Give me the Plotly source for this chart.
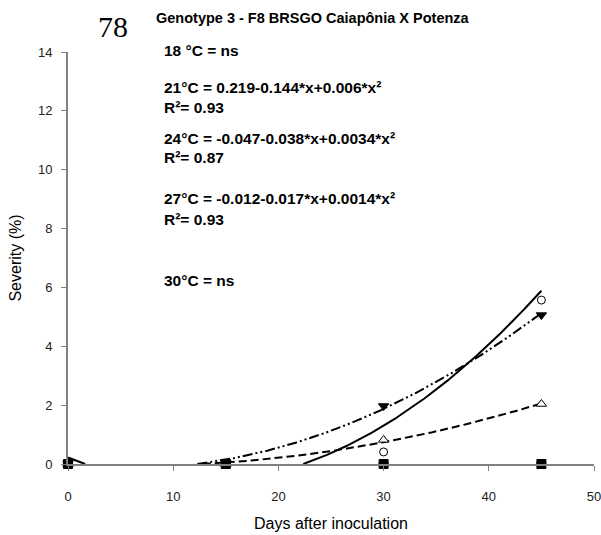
import numpy as np
import plotly.graph_objects as go

# Sampling days
days = [0, 15, 30, 45]

# Observed severity (%) per temperature
sev_18 = [0, 0, 0, 0]
sev_21 = [0, 0, 0.41, 5.57]
sev_24 = [0, 0.05, 1.97, 5.06]
sev_27 = [0, 0, 0.82, 2.04]
sev_30 = [0, 0, 0, 0]

# Fitted quadratic models: a + b*x + c*x^2
coef_21 = [0.219, -0.144, 0.006]
coef_24 = [-0.047, -0.038, 0.0034]
coef_27 = [-0.012, -0.017, 0.0014]

x_ticks = [0, 10, 20, 30, 40, 50]
y_ticks = [0, 2, 4, 6, 8, 10, 12, 14]

FONT = "Arial, Liberation Sans, sans-serif"


def fitted_curve(coef, x_max=45):
    """Evaluate a quadratic fit and keep only the non-negative part."""
    a, b, c = coef
    xs = list(np.linspace(0, x_max, 600))
    disc = b * b - 4 * c * a
    if disc >= 0:
        r1 = (-b - np.sqrt(disc)) / (2 * c)
        r2 = (-b + np.sqrt(disc)) / (2 * c)
        xs += [r for r in (r1, r2) if 0 <= r <= x_max]
    xs = sorted(xs)
    ys = []
    for x in xs:
        y = a + b * x + c * x * x
        ys.append(max(y, 0.0) if y > -1e-9 else None)
    return xs, ys


fig = go.Figure()

line_styles = [
    (coef_21, "solid"),
    (coef_24, "10px,3px,2px,3px,2px,3px"),
    (coef_27, "8px,4px"),
]
for coef, dash in line_styles:
    cx, cy = fitted_curve(coef)
    fig.add_trace(go.Scatter(
        x=cx, y=cy, mode="lines", connectgaps=False,
        line=dict(color="black", width=2, dash=dash),
        hoverinfo="skip", showlegend=False,
    ))

# open symbols underneath, filled symbols on top
marker_specs = [
    (sev_21, "circle", "white", 8),
    (sev_27, "triangle-up", "white", 9),
    (sev_24, "triangle-down", "black", 9),
    (sev_18, "circle", "black", 9),
    (sev_30, "square", "black", 9),
]
for vals, symbol, fill, size in marker_specs:
    fig.add_trace(go.Scatter(
        x=days, y=vals, mode="markers", cliponaxis=False,
        marker=dict(symbol=symbol, color=fill, size=size,
                    line=dict(color="black", width=1)),
        showlegend=False,
    ))

equations = [
    ("18 °C = ns", 50),
    ("21°C = 0.219-0.144*x+0.006*x²", 88),
    ("R²= 0.93", 107),
    ("24°C = -0.047-0.038*x+0.0034*x²", 138),
    ("R²= 0.87", 157),
    ("27°C = -0.012-0.017*x+0.0014*x²", 199),
    ("R²= 0.93", 219),
    ("30°C = ns", 280),
]
annotations = []
for txt, ypix in equations:
    annotations.append(dict(
        text=f"<b>{txt}</b>", xref="paper", yref="paper",
        x=(162 - 68) / 526, y=(464 - ypix) / 412,
        xanchor="left", yanchor="middle", showarrow=False,
        font=dict(family=FONT, size=15.5, color="black"),
    ))

annotations.append(dict(
    text="78", xref="paper", yref="paper",
    x=(96 - 68) / 526, y=(464 - 26) / 412,
    xanchor="left", yanchor="middle", showarrow=False,
    font=dict(family="Liberation Serif, Times New Roman, serif", size=30, color="black"),
))
annotations.append(dict(
    text="<b>Genotype 3 - F8 BRSGO Caiapônia X Potenza</b>", xref="paper", yref="paper",
    x=(154 - 68) / 526, y=(464 - 18) / 412,
    xanchor="left", yanchor="middle", showarrow=False,
    font=dict(family=FONT, size=14.5, color="black"),
))

fig.update_layout(
    width=601, height=535,
    margin=dict(l=68, r=7, t=52, b=71),
    paper_bgcolor="white", plot_bgcolor="white",
    annotations=annotations,
    font=dict(family=FONT, color="black"),
)
fig.update_xaxes(
    range=[0, 50], tickvals=x_ticks, showgrid=False, zeroline=False,
    showline=True, linecolor="#808080", linewidth=2,
    ticks="outside", ticklen=5, tickwidth=1, tickcolor="#808080",
    tickfont=dict(family=FONT, size=13, color="#222"),
    ticklabelstandoff=14, ticklabeloverflow="allow", automargin=False,
    title=dict(text="Days after inoculation", font=dict(family=FONT, size=16, color="black"),
               standoff=15),
)
fig.update_yaxes(
    range=[0, 14], tickvals=y_ticks, showgrid=False, zeroline=False,
    showline=True, linecolor="#808080", linewidth=2,
    ticks="outside", ticklen=5, tickwidth=1, tickcolor="#808080",
    tickfont=dict(family=FONT, size=13, color="#222"),
    ticklabelstandoff=6, ticklabeloverflow="allow", automargin=False,
    title=dict(text="Severity (%)", font=dict(family=FONT, size=16, color="black"),
               standoff=12),
)

fig.write_html("out.html")
